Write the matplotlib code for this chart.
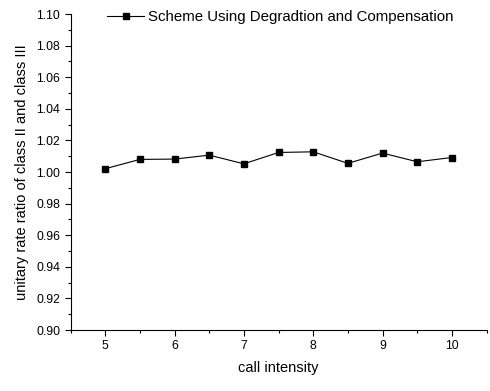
import matplotlib
matplotlib.use('Agg')
import matplotlib.pyplot as plt
from matplotlib.ticker import MultipleLocator

plt.rcParams['font.family'] = ['Liberation Sans', 'DejaVu Sans']

# data
call_intensity = [5, 5.5, 6, 6.5, 7, 7.5, 8, 8.5, 9, 9.5, 10]
rate_ratio = [1.0021, 1.0080, 1.0082, 1.0107, 1.0052, 1.0124,
              1.0128, 1.0055, 1.0120, 1.0065, 1.0092]

fig = plt.figure(figsize=(4.9, 3.91), dpi=100, facecolor='white')
ax = fig.add_axes([0.144, 0.156, 0.849, 0.808])

ax.plot(call_intensity, rate_ratio, color='black', lw=0.8, marker='s',
        markersize=5, markerfacecolor='black', markeredgecolor='black',
        label='Scheme Using Degradtion and Compensation')

ax.set_xlim(4.5, 10.5)
ax.set_ylim(0.90, 1.10)
ax.xaxis.set_major_locator(MultipleLocator(1))
ax.xaxis.set_minor_locator(MultipleLocator(0.5))
ax.yaxis.set_major_locator(MultipleLocator(0.02))
ax.yaxis.set_minor_locator(MultipleLocator(0.01))
ax.yaxis.set_major_formatter(plt.FormatStrFormatter('%.2f'))

for s in ['top', 'right']:
    ax.spines[s].set_visible(False)
for s in ['left', 'bottom']:
    ax.spines[s].set_linewidth(0.8)

ax.tick_params(which='major', direction='out', length=4, width=0.8, labelsize=8.8)
ax.tick_params(which='minor', direction='out', length=2.5, width=0.8)

ax.set_xlabel('call intensity', fontsize=10.5, labelpad=6)
ax.set_ylabel('unitary rate ratio of class II and class III', fontsize=10.5, labelpad=5)

ax.legend(loc='upper left', bbox_to_anchor=(0.055, 1.055), frameon=False,
          fontsize=10.8, handlelength=2.5, handletextpad=0.25, numpoints=1)

fig.savefig('out.png', dpi=100, facecolor='white')
